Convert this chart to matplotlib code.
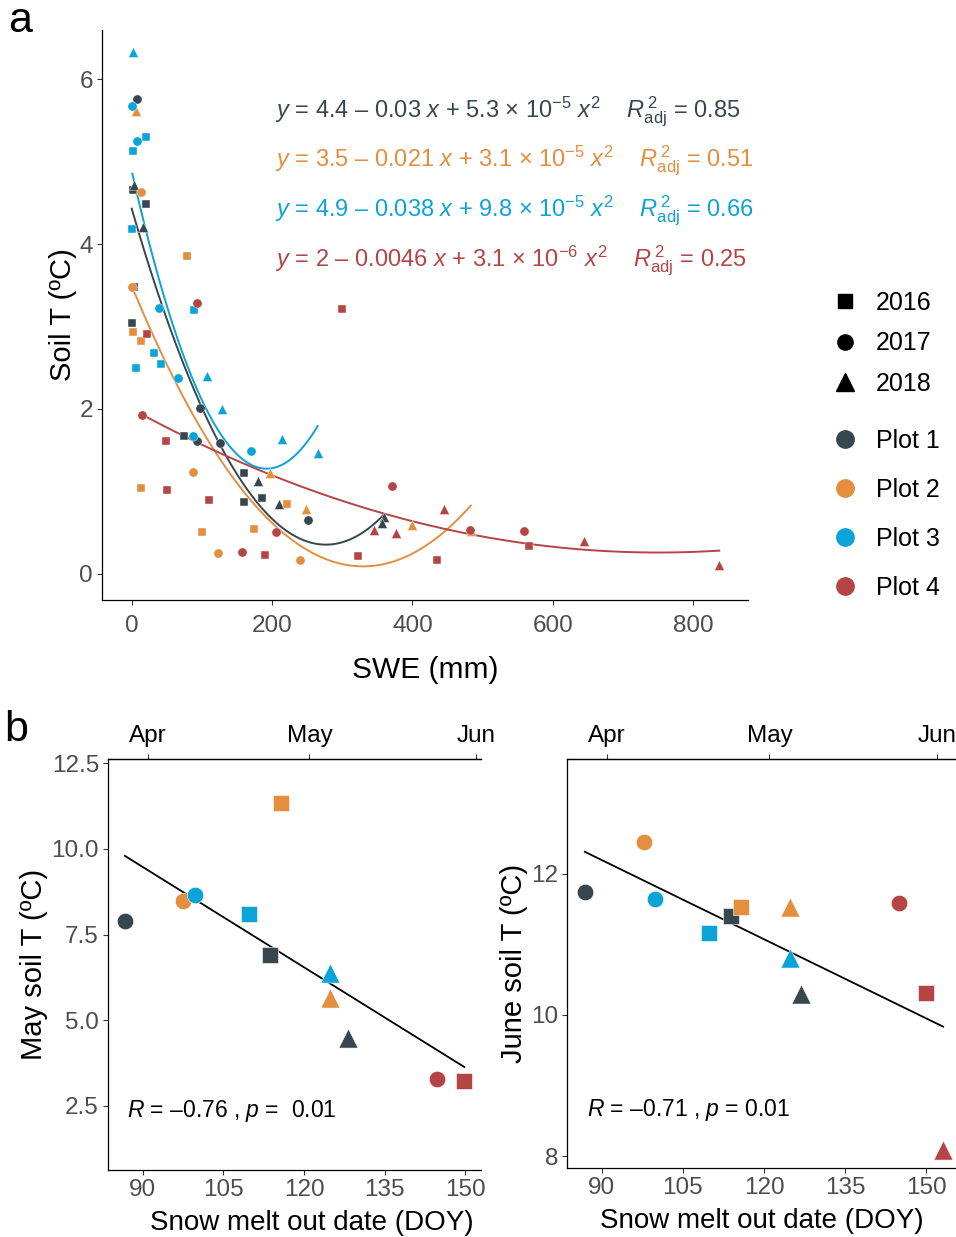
import numpy as np
import matplotlib
matplotlib.use('Agg')
import matplotlib.pyplot as plt
from matplotlib.lines import Line2D

plt.rcParams['font.family'] = ['Liberation Sans', 'DejaVu Sans']
plt.rcParams['mathtext.fontset'] = 'custom'
plt.rcParams['mathtext.rm'] = 'Liberation Sans'
plt.rcParams['mathtext.it'] = 'Liberation Sans:italic'
plt.rcParams['mathtext.bf'] = 'Liberation Sans:bold'

# ---- panel a: soil temperature vs SWE, per plot ----
swe_p1 = [7.4, 2.6, 3.5, 20.6, 16.8, 4, 0.3, 97, 75.2, 92.8, 126.4, 160.6, 179.6, 160.6, 185.3, 210, 250.8, 360, 356]
temp_p1 = [5.76, 4.66, 4.72, 4.49, 4.21, 3.48, 3.04, 2.01, 1.67, 1.61, 1.59, 1.22, 1.12, 0.87, 0.92, 0.84, 0.65, 0.69, 0.62]
year_p1 = [2017, 2016, 2018, 2016, 2018, 2016, 2016, 2017, 2016, 2017, 2017, 2016, 2018, 2016, 2016, 2018, 2017, 2018, 2018]

swe_p2 = [6, 13, 79.4, 1.2, 2.6, 14, 88, 197, 13, 221.4, 248.8, 100.8, 174.8, 123, 240, 398.8, 483]
temp_p2 = [5.62, 4.63, 3.86, 3.48, 2.93, 2.82, 1.23, 1.22, 1.04, 0.85, 0.78, 0.51, 0.54, 0.25, 0.16, 0.59, 0.52]
year_p2 = [2018, 2017, 2016, 2017, 2016, 2016, 2017, 2018, 2016, 2016, 2018, 2016, 2016, 2017, 2017, 2018, 2018]

swe_p3 = [2.6, 1.2, 7.4, 20, 1.7, 1.2, 39.6, 89.4, 32, 42.4, 6, 66.6, 108, 128.4, 87, 169.7, 214.7, 265]
temp_p3 = [6.33, 5.68, 5.25, 5.30, 5.13, 4.19, 3.22, 3.20, 2.68, 2.54, 2.50, 2.37, 2.40, 2.00, 1.67, 1.49, 1.63, 1.46]
year_p3 = [2018, 2017, 2017, 2016, 2016, 2016, 2017, 2016, 2016, 2016, 2016, 2017, 2018, 2018, 2017, 2017, 2018, 2018]

swe_p4 = [92.8, 21.6, 14.5, 49, 51, 110.8, 206, 156.9, 189.6, 299, 371, 444.8, 345.6, 376.5, 482, 558.7, 566.3, 644, 836.7, 322, 435.3]
temp_p4 = [3.28, 2.91, 1.92, 1.61, 1.01, 0.90, 0.50, 0.26, 0.23, 3.21, 1.06, 0.78, 0.53, 0.49, 0.53, 0.52, 0.34, 0.40, 0.11, 0.21, 0.17]
year_p4 = [2017, 2016, 2017, 2016, 2016, 2016, 2017, 2017, 2016, 2016, 2017, 2018, 2018, 2018, 2017, 2017, 2016, 2018, 2018, 2016, 2016]

# quadratic fits: intercept, linear, quadratic
fit_p1 = [4.44, -0.02955, 5.34e-5]
fit_p2 = [3.5, -0.0207, 3.14e-5]
fit_p3 = [4.9, -0.0377, 9.8e-5]
fit_p4 = [2.0, -0.00465, 3.1e-6]

eq_labels = [
    r'$y$ = 4.4 – 0.03 $x$ + 5.3 × 10$^{-5}$ $x^{2}$    $R_{\mathrm{adj}}^{\,2}$ = 0.85',
    r'$y$ = 3.5 – 0.021 $x$ + 3.1 × 10$^{-5}$ $x^{2}$    $R_{\mathrm{adj}}^{\,2}$ = 0.51',
    r'$y$ = 4.9 – 0.038 $x$ + 9.8 × 10$^{-5}$ $x^{2}$    $R_{\mathrm{adj}}^{\,2}$ = 0.66',
    r'$y$ = 2 – 0.0046 $x$ + 3.1 × 10$^{-6}$ $x^{2}$    $R_{\mathrm{adj}}^{\,2}$ = 0.25',
]

# ---- panel b: snow melt-out date vs May / June soil temperature ----
doy_may = [86.7, 97.5, 99.7, 109.8, 115.7, 113.7, 124.8, 124.8, 128.2, 144.7, 149.8]
may_t = [7.89, 8.48, 8.65, 8.10, 11.33, 6.90, 6.38, 5.65, 4.48, 3.29, 3.23]
plot_may = [1, 2, 3, 3, 2, 1, 3, 2, 1, 4, 4]
year_may = [2017, 2017, 2017, 2016, 2016, 2016, 2018, 2018, 2018, 2017, 2016]

doy_june = [86.9, 97.8, 99.9, 109.9, 113.9, 115.8, 124.8, 124.8, 126.9, 145.0, 150.0, 153.1]
june_t = [11.74, 12.45, 11.65, 11.16, 11.40, 11.53, 11.53, 10.81, 10.30, 11.59, 10.31, 8.09]
plot_june = [1, 2, 3, 3, 1, 2, 2, 3, 1, 4, 4, 4]
year_june = [2017, 2017, 2017, 2016, 2016, 2016, 2018, 2018, 2018, 2017, 2016, 2018]

month_doy = [91, 121, 152]
month_names = ['Apr', 'May', 'Jun']

colours = {1: '#37474f', 2: '#e48e3f', 3: '#0ba3d8', 4: '#b54444'}
shapes = {2016: 's', 2017: 'o', 2018: '^'}
small = {2016: 34, 2017: 44, 2018: 52}
big = {2016: 125, 2017: 140, 2018: 190}

tick_grey = '#4d4d4d'

fig = plt.figure(figsize=(9.56, 12.37), dpi=100)
W, H = 956, 1237


def axes_px(left, top, right, bottom):
    return fig.add_axes([left / W, 1 - bottom / H, (right - left) / W, (bottom - top) / H])


def style(ax, top=False, xpad=7):
    for side in ['right'] + ([] if top else ['top']):
        ax.spines[side].set_visible(False)
    for side in ['left', 'bottom', 'top']:
        ax.spines[side].set_linewidth(0.9)
    ax.tick_params(length=3.5, width=0.8, color='#333333', labelsize=17.5, labelcolor=tick_grey, pad=3)
    ax.tick_params(axis='x', pad=xpad)


ax = axes_px(102, 30, 748, 600)
style(ax)
plots = [(swe_p1, temp_p1, year_p1, fit_p1, 1), (swe_p2, temp_p2, year_p2, fit_p2, 2),
         (swe_p3, temp_p3, year_p3, fit_p3, 3), (swe_p4, temp_p4, year_p4, fit_p4, 4)]
for swe, temp, year, fit, p in plots:
    swe, temp, year = np.array(swe), np.array(temp), np.array(year)
    for y in (2016, 2017, 2018):
        m = year == y
        ax.scatter(swe[m], temp[m], s=small[y], marker=shapes[y], color=colours[p],
                   edgecolor='white', linewidth=0.3, zorder=3)
    xs = np.linspace(swe.min(), swe.max(), 200)
    ax.plot(xs, fit[0] + fit[1] * xs + fit[2] * xs ** 2, color=colours[p], lw=1.4, zorder=2)

for i, lab in enumerate(eq_labels):
    ax.text(204.5, 5.61 - 0.605 * i, lab, color=colours[i + 1], fontsize=17, ha='left', va='center')

ax.set_xlim(-42, 877.6)
ax.set_ylim(-0.32, 6.6)
ax.set_xticks([0, 200, 400, 600, 800])
ax.set_yticks([0, 2, 4, 6])
ax.set_xlabel('SWE (mm)', fontsize=21.5)
ax.set_ylabel('Soil T (ºC)', fontsize=21)
ax.xaxis.set_label_coords(0.5, -0.098)
ax.yaxis.set_label_coords(-0.038, 0.5)

# legends
year_handles = [Line2D([], [], marker=shapes[y], ls='', color='black', markersize=ms)
                for y, ms in zip((2016, 2017, 2018), (10, 11, 13))]
plot_handles = [Line2D([], [], marker='o', ls='', color=colours[p], markersize=12.5) for p in (1, 2, 3, 4)]
fig.legend(handles=year_handles, labels=['2016', '2017', '2018'], loc='upper left',
           bbox_to_anchor=(832 / W, 1 - 291 / H), frameon=False, fontsize=18,
           labelspacing=0.66, handletextpad=0.75, handlelength=1.0, borderpad=0, borderaxespad=0)
fig.legend(handles=plot_handles, labels=['Plot 1', 'Plot 2', 'Plot 3', 'Plot 4'], loc='upper left',
           bbox_to_anchor=(832 / W, 1 - 429 / H), frameon=False, fontsize=18,
           labelspacing=1.0, handletextpad=0.75, handlelength=1.0, borderpad=0, borderaxespad=0)


def melt_panel(ax, doy, temp, plot, year, xlim, ylim, yticks, ylabel, rtext, ylab_x, xlab_x):
    style(ax, top=True, xpad=3)
    doy, temp, plot, year = map(np.array, (doy, temp, plot, year))
    for p in (1, 2, 3, 4):
        for y in (2016, 2017, 2018):
            m = (plot == p) & (year == y)
            if m.any():
                ax.scatter(doy[m], temp[m], s=big[y], marker=shapes[y], color=colours[p],
                           edgecolor='white', linewidth=0.4, zorder=3)
    slope, icept = np.polyfit(doy, temp, 1)
    xs = np.array([doy.min(), doy.max()])
    ax.plot(xs, icept + slope * xs, color='black', lw=1.3, zorder=2)
    ax.set_xlim(*xlim)
    ax.set_ylim(*ylim)
    ax.set_xticks([90, 105, 120, 135, 150])
    ax.set_yticks(yticks)
    ax.set_xlabel('Snow melt out date (DOY)', fontsize=20)
    ax.set_ylabel(ylabel, fontsize=21)
    ax.xaxis.set_label_coords(xlab_x, -0.097)
    ax.yaxis.set_label_coords(ylab_x, 0.5)
    ax.text(0.05, 0.143, rtext, transform=ax.transAxes, fontsize=16.5, ha='left', va='center')
    sec = ax.secondary_xaxis('top')
    sec.set_xticks(month_doy)
    sec.set_xticklabels(month_names)
    sec.spines['top'].set_linewidth(0.9)
    sec.tick_params(length=3.5, width=0.8, color='#333333', labelsize=17.5, labelcolor='black', pad=5)


ax_may = axes_px(108, 759, 481, 1170)
melt_panel(ax_may, doy_may, may_t, plot_may, year_may, (83.56, 152.9), (0.63, 12.62),
           [2.5, 5.0, 7.5, 10.0, 12.5], 'May soil T (ºC)', r'$R$ = –0.76 , $p$ =  0.01', -0.16, 0.547)
ax_may.set_yticklabels(['2.5', '5.0', '7.5', '10.0', '12.5'])

ax_jun = axes_px(567, 759, 961, 1168)
melt_panel(ax_jun, doy_june, june_t, plot_june, year_june, (83.6, 156.4), (7.83, 13.63),
           [8, 10, 12], 'June soil T (ºC)', r'$R$ = –0.71 , $p$ = 0.01', -0.1, 0.495)

fig.text(8 / W, 1 - 21 / H, 'a', fontsize=31, ha='left', va='center')
fig.text(4 / W, 1 - 730 / H, 'b', fontsize=31, ha='left', va='center')

fig.savefig('out.png', dpi=100)
